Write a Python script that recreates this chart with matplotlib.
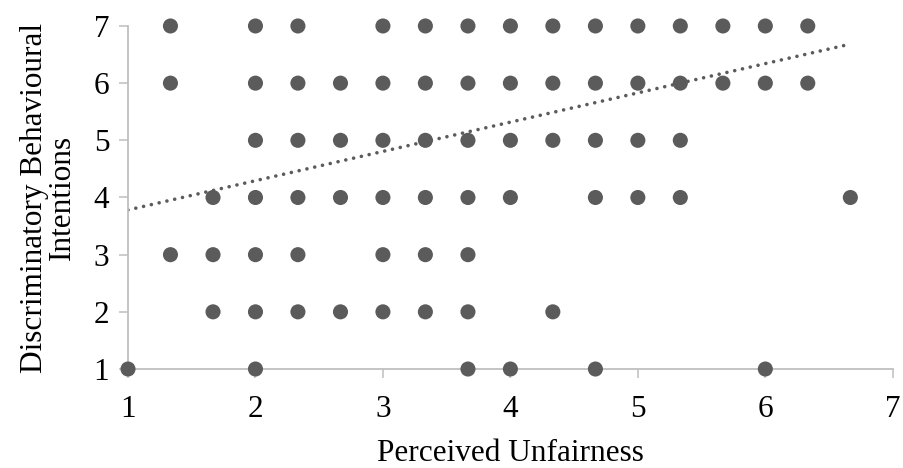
import matplotlib
matplotlib.use("Agg")
import matplotlib.pyplot as plt
import numpy as np

# Значения: для каждого уровня y — список x
rows_y = [7, 6, 5, 4, 3, 2, 1]
rows_x = [
    [1.333, 2, 2.333, 3, 3.333, 3.667, 4, 4.333, 4.667, 5, 5.333, 5.667, 6, 6.333],
    [1.333, 2, 2.333, 2.667, 3, 3.333, 3.667, 4, 4.333, 4.667, 5, 5.333, 5.667, 6, 6.333],
    [2, 2.333, 2.667, 3, 3.333, 3.667, 4, 4.333, 4.667, 5, 5.333],
    [1.667, 2, 2.333, 2.667, 3, 3.333, 3.667, 4, 4.667, 5, 5.333, 6.667],
    [1.333, 1.667, 2, 2.333, 3, 3.333, 3.667],
    [1.667, 2, 2.333, 2.667, 3, 3.333, 3.667, 4.333],
    [1, 2, 3.667, 4, 4.667, 6],
]
# Линия тренда (линейная), как на исходном графике
trend_slope = 0.512
trend_intercept = 3.27

x_label = "Perceived Unfairness"
y_label = "Discriminatory Behavioural\nIntentions"
ticks = [1, 2, 3, 4, 5, 6, 7]

dot_color = "#5b5b5b"
axis_color = "#bfbfbf"

plt.rcParams["font.family"] = ["Liberation Serif", "DejaVu Serif"]

fig = plt.figure(figsize=(9.04, 4.68), dpi=100)
ax = fig.add_axes([0.1416, 0.2115, 0.846, 0.733])

xs = []
ys = []
for y, row in zip(rows_y, rows_x):
    for x in row:
        xs.append(x)
        ys.append(y)
xs = np.array(xs)
ys = np.array(ys)

ax.scatter(xs, ys, s=118, color=dot_color, edgecolors="none", zorder=3, clip_on=False)

# Тренд от минимального до максимального x
tx = np.array([xs.min(), xs.max()])
ax.plot(tx, trend_intercept + trend_slope * tx, color=dot_color, lw=2.6,
        linestyle=(0, (0.01, 2.2)), dash_capstyle="round", zorder=2)

ax.set_xlim(1, 7)
ax.set_ylim(1, 7)
ax.set_xticks(ticks)
ax.set_yticks(ticks)

for side in ["top", "right"]:
    ax.spines[side].set_visible(False)
for side in ["left", "bottom"]:
    ax.spines[side].set_color(axis_color)
    ax.spines[side].set_linewidth(1.3)

ax.tick_params(axis="both", colors=axis_color, length=6.5, width=1.1,
               labelcolor="black", labelsize=22.5)
ax.tick_params(axis="x", pad=12)
ax.tick_params(axis="y", pad=7)

ax.set_xlabel(x_label, fontsize=22.5, labelpad=11)
ax.set_ylabel(y_label, fontsize=22.5, labelpad=12, linespacing=0.95)

fig.savefig("out.png", dpi=100)
